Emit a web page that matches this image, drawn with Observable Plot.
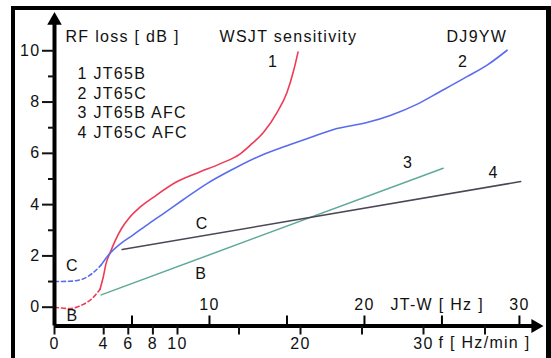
<!DOCTYPE html>
<html>
<head>
<meta charset="utf-8">
<script src="https://cdn.jsdelivr.net/npm/d3@7"></script>
<script src="https://cdn.jsdelivr.net/npm/@observablehq/plot@0.6"></script>
<style>
html, body { margin: 0; padding: 0; background: #fff; }
#wrap { position: relative; width: 551px; height: 358px; overflow: hidden; }
#frame { position: absolute; left: 11px; top: 6px; right: 0; bottom: -10px;
  border-left: 4px solid #000; border-top: 4px solid #000; border-right: 5px solid #000;
  pointer-events: none; z-index: 2; }
</style>
</head>
<body>
<div id="wrap"><div id="frame"></div></div>
<script>
// ---- data ----
// curve 1: JT65B (red), dashed for low drift
const jt65bF  = [0, 1.2, 2.3, 3.1, 3.7, 3.95, 4.2, 4.5, 4.9, 5.45, 6.1, 6.9, 8.0, 9.9, 11.8, 13.45, 15.1, 15.9, 17.0, 18.1, 18.9, 19.4, 19.8];
const jt65bDB = [0, -0.05, 0.1, 0.36, 0.7, 1.15, 1.72, 2.1, 2.56, 3.07, 3.5, 3.88, 4.27, 4.88, 5.27, 5.59, 5.98, 6.31, 6.82, 7.6, 8.37, 9.15, 9.95];
// curve 2: JT65C (blue)
const jt65cF  = [0, 1.2, 2.3, 3.1, 3.8, 4.5, 5.3, 6.4, 7.7, 9.0, 10.4, 12.4, 14.5, 16.7, 18.9, 20.8, 22.7, 25.4, 27.3, 29.5, 31.4, 33.5, 35.2, 36.8];
const jt65cDB = [1.0, 1.01, 1.1, 1.33, 1.65, 2.1, 2.45, 2.82, 3.27, 3.7, 4.17, 4.82, 5.38, 5.9, 6.3, 6.62, 6.93, 7.2, 7.48, 7.92, 8.42, 8.98, 9.45, 10.02];
// curve 3: JT65B AFC (teal), curve 4: JT65C AFC (dark)
const afcBF  = [3.8, 31.6];
const afcBDB = [0.48, 5.42];
const afcCF  = [5.5, 37.9];
const afcCDB = [2.25, 4.9];
const dashedUpTo = 3.7;   // f below which curves 1 and 2 are dashed

// axes / ticks
const yMajor = [0, 2, 4, 6, 8, 10];
const yMinor = [1, 3, 5, 7, 9];
const fTicks = [0, 4, 6, 8, 10, 15, 20, 25, 30, 35];
const fLabels = [0, 4, 6, 8, 10, 20, 30];
const jtwTicks = [5, 10, 15, 20, 25, 30];
const jtwLabels = [10, 20, 30];
const jtwToF = 1.26;      // JT-W [Hz] -> f [Hz/min] position on the shared axis

const legendLines = ["1 JT65B", "2 JT65C", "3 JT65B AFC", "4 JT65C AFC"];
const titleText = "RF loss [ dB ]";
const subtitleText = "WSJT sensitivity";
const authorText = "DJ9YW";
const xLabelTop = "JT-W [ Hz ]";
const xLabelBottom = "f [ Hz/min ]";

// ---- build tables ----
const zip = (fs, ds) => fs.map((f, i) => ({f, db: ds[i]}));
const red = zip(jt65bF, jt65bDB);
const blue = zip(jt65cF, jt65cDB);
const teal = zip(afcBF, afcBDB);
const dark = zip(afcCF, afcCDB);

const xDomain = [0, 40];
const yDomain = [-0.733, 11.5];
const yMin = yDomain[0];
const yArrow = 11.18, xArrow = 39.1;
const pxPerY = 25.64;

const FONT = "'Liberation Sans', Arial, Helvetica, sans-serif";
const RED = "#ee3b57", BLUE = "#5a6cee", TEAL = "#5ea99a", DARK = "#4d4656";

const last = a => a[a.length - 1];
function lbl(text, p, dx, dy) {
  return Plot.text([p], {x: "f", y: "db", text: () => text, dx, dy, fontSize: 16, textAnchor: "middle", lineAnchor: "middle", fill: "#111"});
}

const chart = Plot.plot({
  width: 551, height: 358,
  marginLeft: 54, marginRight: 5, marginTop: 11.8, marginBottom: 32.5,
  x: {domain: xDomain, axis: null, label: null},
  y: {domain: yDomain, axis: null, label: null},
  style: {fontFamily: FONT, fontSize: "16px", background: "transparent", letterSpacing: "1.3px", color: "#111"},
  marks: [
    // curves
    Plot.line(red.filter(d => d.f <= dashedUpTo), {x: "f", y: "db", stroke: RED, strokeWidth: 1.6, strokeDasharray: "4,3", curve: "monotone-x"}),
    Plot.line(red.filter(d => d.f >= dashedUpTo), {x: "f", y: "db", stroke: RED, strokeWidth: 1.6, curve: "monotone-x"}),
    Plot.line(blue.filter(d => d.f <= 3.8), {x: "f", y: "db", stroke: BLUE, strokeWidth: 1.6, strokeDasharray: "4,3", curve: "monotone-x"}),
    Plot.line(blue.filter(d => d.f >= 3.8), {x: "f", y: "db", stroke: BLUE, strokeWidth: 1.6, curve: "monotone-x"}),
    Plot.line(teal, {x: "f", y: "db", stroke: TEAL, strokeWidth: 1.5}),
    Plot.line(dark, {x: "f", y: "db", stroke: DARK, strokeWidth: 1.5}),

    // axis lines and arrowheads
    Plot.ruleX([0], {y1: yMin, y2: yArrow, stroke: "#000", strokeWidth: 4}),
    Plot.ruleY([yMin], {x1: 0, x2: xArrow, stroke: "#000", strokeWidth: 4}),
    Plot.dot([0], {x: 0, y: yArrow, symbol: "triangle", r: 5.4, fill: "#000", stroke: null}),
    Plot.dot([0], {x: xArrow, y: yMin, symbol: "triangle", r: 5.2, rotate: 90, fill: "#000", stroke: null}),

    // y axis ticks
    Plot.axisY(yMajor, {anchor: "left", tickSize: 12, tickPadding: 2, strokeWidth: 2, fontSize: 16, label: null, tickFormat: d => String(d)}),
    Plot.axisY(yMinor, {anchor: "left", tickSize: 6, strokeWidth: 2, label: null, tickFormat: () => ""}),
    // bottom (f) ticks
    Plot.axisX(fTicks, {anchor: "bottom", tickSize: 9, tickPadding: 3, strokeWidth: 2, fontSize: 16, label: null,
      tickFormat: d => fLabels.includes(d) ? String(d) : ""}),
    // top (JT-W) ticks, pointing up from the axis
    Plot.ruleX(jtwTicks, {x: d => d * jtwToF, y1: yMin, y2: yMin + 10 / pxPerY, stroke: "#000", strokeWidth: 2}),
    Plot.text(jtwLabels, {x: d => d * jtwToF, y: yMin, text: d => String(d), dy: -21, fontSize: 16, lineAnchor: "middle", fill: "#111"}),
    Plot.text([xLabelTop], {frameAnchor: "bottom-left", dx: 336, dy: -21, textAnchor: "start", lineAnchor: "middle", fontSize: 16, fill: "#111"}),
    Plot.text([xLabelBottom], {frameAnchor: "bottom-left", dx: 384, dy: 17, textAnchor: "start", lineAnchor: "middle", fontSize: 16, fill: "#111"}),

    // titles
    Plot.text([titleText], {frameAnchor: "top-left", dx: 11, dy: 24.5, textAnchor: "start", lineAnchor: "middle", fontSize: 16, fill: "#111"}),
    Plot.text([subtitleText], {frameAnchor: "top-left", dx: 165, dy: 24.5, textAnchor: "start", lineAnchor: "middle", fontSize: 16, fill: "#111"}),
    Plot.text([authorText], {frameAnchor: "top-left", dx: 392, dy: 24.5, textAnchor: "start", lineAnchor: "middle", fontSize: 16, fill: "#111"}),
    Plot.text([legendLines.join("\n")], {frameAnchor: "top-left", dx: 23, dy: 90, textAnchor: "start", lineAnchor: "middle", lineHeight: 1.22, fontSize: 16, fill: "#111"}),

    // curve labels
    lbl("1", last(red), -25, 10),
    lbl("2", last(blue), -44, 12),
    lbl("3", last(teal), -35, -5),
    lbl("4", last(dark), -27, -9),
    lbl("C", blue[0], 18, -16),
    lbl("B", red[0], 18, 9),
    lbl("C", dark[0], 80, -26),
    lbl("B", teal[0], 100, -21)
  ]
});
document.getElementById("wrap").prepend(chart);
</script>
</body>
</html>
